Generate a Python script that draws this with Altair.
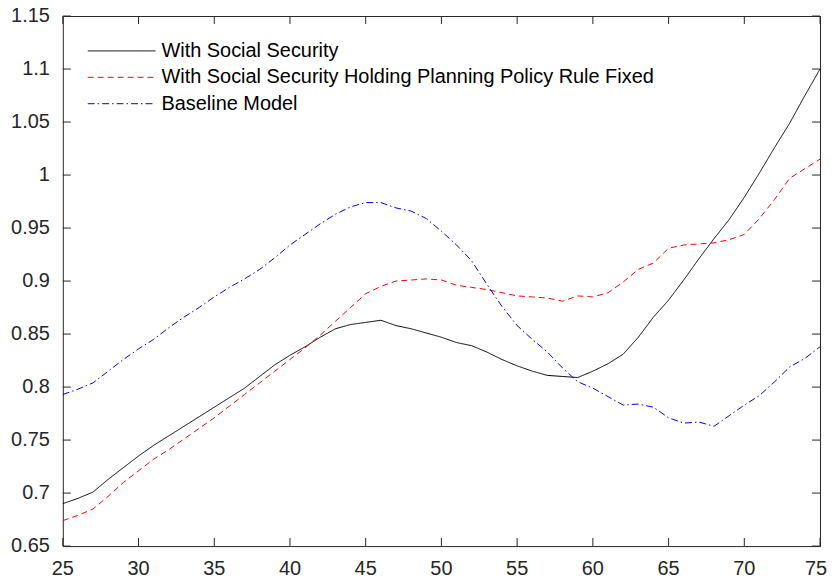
import altair as alt
import pandas as pd

ages = list(range(25, 76))

series_names = [
    "With Social Security",
    "With Social Security Holding Planning Policy Rule Fixed",
    "Baseline Model",
]

with_ss = [0.690, 0.695, 0.701, 0.713, 0.724, 0.735, 0.745, 0.754, 0.763, 0.772,
           0.781, 0.790, 0.799, 0.810, 0.821, 0.830, 0.838, 0.847, 0.855, 0.859,
           0.861, 0.863, 0.858, 0.855, 0.851, 0.847, 0.842, 0.839, 0.833, 0.826,
           0.820, 0.815, 0.811, 0.810, 0.809, 0.815, 0.822, 0.831, 0.847, 0.866,
           0.882, 0.901, 0.921, 0.940, 0.958, 0.979, 1.002, 1.026, 1.049, 1.075,
           1.100]

with_ss_fixed = [0.674, 0.679, 0.685, 0.697, 0.710, 0.721, 0.732, 0.741, 0.751, 0.761,
                 0.771, 0.782, 0.793, 0.804, 0.815, 0.826, 0.837, 0.849, 0.862, 0.875,
                 0.888, 0.895, 0.900, 0.901, 0.902, 0.901, 0.896, 0.894, 0.892, 0.889,
                 0.886, 0.885, 0.884, 0.881, 0.886, 0.885, 0.889, 0.899, 0.911, 0.917,
                 0.931, 0.934, 0.935, 0.936, 0.939, 0.944, 0.959, 0.977, 0.997, 1.006,
                 1.015]

baseline = [0.793, 0.798, 0.804, 0.815, 0.826, 0.836, 0.845, 0.856, 0.866, 0.875,
            0.885, 0.894, 0.902, 0.911, 0.922, 0.934, 0.944, 0.954, 0.963, 0.970,
            0.974, 0.974, 0.969, 0.966, 0.959, 0.947, 0.934, 0.919, 0.897, 0.876,
            0.858, 0.845, 0.833, 0.818, 0.805, 0.799, 0.791, 0.783, 0.784, 0.781,
            0.771, 0.766, 0.767, 0.763, 0.773, 0.783, 0.792, 0.805, 0.819, 0.827,
            0.838]

x_ticks = [25, 30, 35, 40, 45, 50, 55, 60, 65, 70, 75]
x_tick_labels = ["25", "30", "35", "40", "45", "50", "55", "60", "65", "70", "75"]
y_ticks = [0.65, 0.70, 0.75, 0.80, 0.85, 0.90, 0.95, 1.00, 1.05, 1.10, 1.15]
y_tick_labels = ["0.65", "0.7", "0.75", "0.8", "0.85", "0.9", "0.95", "1", "1.05", "1.1", "1.15"]

colors = ["#000000", "#ff0000", "#0000ff"]
dashes = [[1, 0], [6, 4], [7, 3, 1.5, 3]]

rows = []
for name, vals in zip(series_names, [with_ss, with_ss_fixed, baseline]):
    for a, v in zip(ages, vals):
        rows.append({"age": a, "value": v, "series": name})
df = pd.DataFrame(rows)
xt = pd.DataFrame({"t": x_ticks, "label": x_tick_labels})
yt = pd.DataFrame({"t": y_ticks, "label": y_tick_labels})

FONT = "Liberation Sans"
AX = "#262626"
W, H, TL = 760, 532, 8

xs = alt.Scale(domain=[25, 75], nice=False, zero=False)
ys = alt.Scale(domain=[0.65, 1.15], nice=False, zero=False)

legend = alt.Legend(
    title=None, orient="none", legendX=24.5, legendY=22.5,
    symbolType="stroke", symbolSize=4624, symbolStrokeWidth=1,
    labelFont=FONT, labelFontSize=20, labelColor="#000000",
    labelOffset=5.5, labelLimit=800, clipHeight=25, rowPadding=1.5,
    padding=0,
)

lines = alt.Chart(df).mark_line(strokeWidth=1).encode(
    x=alt.X("age:Q", scale=xs, axis=None),
    y=alt.Y("value:Q", scale=ys, axis=None),
    color=alt.Color("series:N", scale=alt.Scale(domain=series_names, range=colors),
                    sort=series_names, legend=legend),
    strokeDash=alt.StrokeDash("series:N", scale=alt.Scale(domain=series_names, range=dashes),
                              sort=series_names, legend=legend),
    detail="series:N",
)

# inward tick marks on all four sides
vtick = dict(orient="vertical", size=TL, thickness=1, color=AX, opacity=1)
htick = dict(orient="horizontal", size=TL, thickness=1, color=AX, opacity=1)

bottom_ticks = alt.Chart(xt).mark_tick(**vtick).encode(
    x=alt.X("t:Q", scale=xs, axis=None), y=alt.value(H - TL / 2))
top_ticks = alt.Chart(xt).mark_tick(**vtick).encode(
    x=alt.X("t:Q", scale=xs, axis=None), y=alt.value(TL / 2))
left_ticks = alt.Chart(yt).mark_tick(**htick).encode(
    y=alt.Y("t:Q", scale=ys, axis=None), x=alt.value(TL / 2))
right_ticks = alt.Chart(yt).mark_tick(**htick).encode(
    y=alt.Y("t:Q", scale=ys, axis=None), x=alt.value(W - TL / 2))

text_style = dict(font=FONT, fontSize=20, color=AX)

x_labels = alt.Chart(xt).mark_text(
    align="center", baseline="top", **text_style
).transform_filter(alt.datum.t < 75).encode(
    x=alt.X("t:Q", scale=xs, axis=None), y=alt.value(H + 13), text="label:N")
x_label_last = alt.Chart(xt).mark_text(
    align="center", baseline="top", dx=-4, **text_style
).transform_filter(alt.datum.t == 75).encode(
    x=alt.X("t:Q", scale=xs, axis=None), y=alt.value(H + 13), text="label:N")
y_labels = alt.Chart(yt).mark_text(
    align="right", baseline="middle", **text_style
).encode(
    y=alt.Y("t:Q", scale=ys, axis=None), x=alt.value(-13), text="label:N")

chart = alt.layer(
    lines, bottom_ticks, top_ticks, left_ticks, right_ticks,
    x_labels, x_label_last, y_labels
).properties(
    width=W, height=H,
    autosize=alt.AutoSizeParams(type="none"),
    padding={"left": 55, "top": 7, "right": 8, "bottom": 36},
    background="white",
).configure_view(stroke=AX, strokeWidth=1)

chart.save("out.html", embed_options={"renderer": "svg", "actions": False})
